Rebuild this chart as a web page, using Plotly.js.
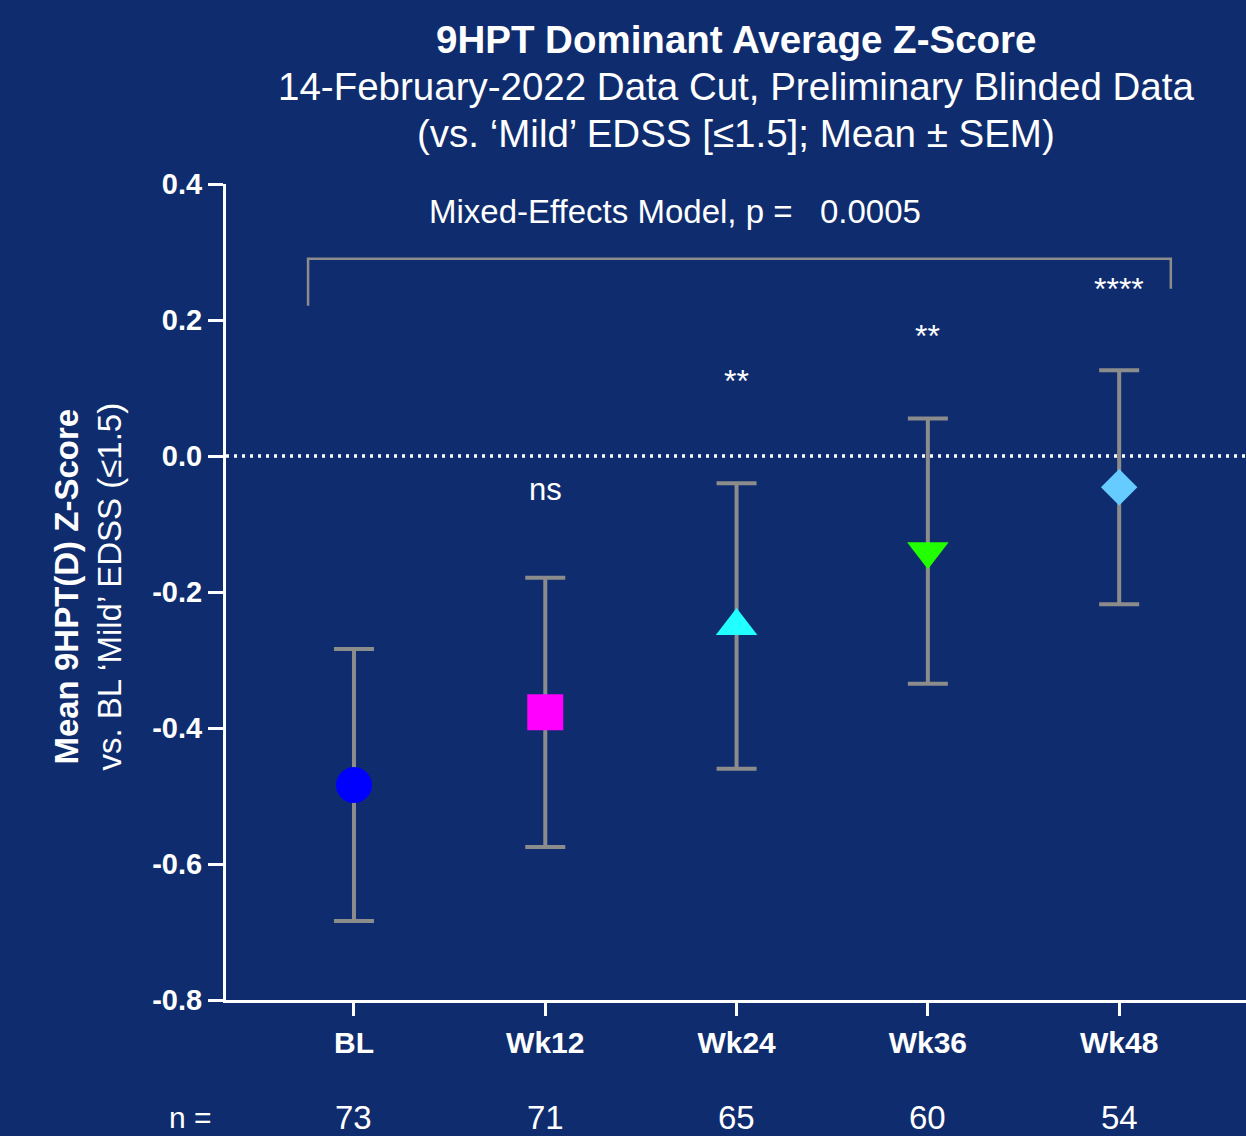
<!DOCTYPE html>
<html>
<head>
<meta charset="utf-8">
<script src="https://cdn.plot.ly/plotly-3.0.1.min.js"></script>
<style>
  html, body { margin: 0; padding: 0; background: #0f2d6e; }
  #chart { width: 1246px; height: 1136px; }
</style>
</head>
<body>
<div id="chart"></div>
<script>
// ---- data ----
const categories = ["BL", "Wk12", "Wk24", "Wk36", "Wk48"];
const meanZ = [-0.484, -0.377, -0.250, -0.140, -0.046];
const semZ = [0.200, 0.198, 0.210, 0.195, 0.172];
const nCounts = [73, 71, 65, 60, 54];
const sigLabels = ["", "ns", "**", "**", "****"];
const yTickVals = [0.4, 0.2, 0.0, -0.2, -0.4, -0.6, -0.8];
const yTickText = ["0.4", "0.2", "0.0", "-0.2", "-0.4", "-0.6", "-0.8"];
const titleLines = [
  "9HPT Dominant Average Z-Score",
  "14-February-2022 Data Cut, Preliminary Blinded Data",
  "(vs. \u2018Mild\u2019 EDSS [\u22641.5]; Mean \u00b1 SEM)"
];
const yTitleLines = ["Mean 9HPT(D) Z-Score", "vs. BL \u2018Mild\u2019 EDSS (\u22641.5)"];
const pValueText = "Mixed-Effects Model, p =   0.0005";

// ---- styles ----
const markerSymbols = ["circle", "square", "triangle-up", "triangle-down", "diamond"];
const markerColors = ["#0000ff", "#ff00ff", "#22ffff", "#22ff00", "#66ccff"];
const markerSizes = [36, 36, 36, 36, 28];
const sigY = [null, -0.049, 0.110, 0.177, 0.246];
const FONT = "Liberation Sans, Arial, sans-serif";
const BG = "#0f2d6e";
const GRAY = "#8c8c8c";

const xIdx = categories.map((c, i) => i);

const trace = {
  type: "scatter",
  mode: "markers",
  x: xIdx,
  y: meanZ,
  error_y: { type: "data", array: semZ, visible: true, color: GRAY, thickness: 4, width: 20 },
  marker: { symbol: markerSymbols, color: markerColors, size: markerSizes, opacity: 1, line: { width: 0 } },
  hoverinfo: "skip",
  showlegend: false,
  cliponaxis: false
};

const annotations = [];
// title lines
const titleY = [1.1765, 1.1189, 1.0625];
titleLines.forEach((t, i) => {
  annotations.push({
    x: 0.5, y: titleY[i], xref: "paper", yref: "paper", showarrow: false,
    text: i === 0 ? "<b>" + t + "</b>" : t, xanchor: "center", yanchor: "middle",
    font: { family: FONT, size: 38.5, color: "#ffffff" }
  });
});
// significance labels
sigLabels.forEach((s, i) => {
  if (!s) return;
  annotations.push({
    x: i, y: sigY[i], xref: "x", yref: "y", text: s, showarrow: false,
    xanchor: "center", yanchor: "middle",
    font: { family: FONT, size: s === "ns" ? 31 : 32, color: "#ffffff" }
  });
});
// n row
annotations.push({
  x: -0.035, y: -0.1446, xref: "paper", yref: "paper", text: "n =", showarrow: false,
  xanchor: "center", yanchor: "middle", font: { family: FONT, size: 30, color: "#ffffff" }
});
nCounts.forEach((n, i) => {
  annotations.push({
    x: i, y: -0.1446, xref: "x", yref: "paper", text: String(n), showarrow: false,
    xanchor: "center", yanchor: "middle", font: { family: FONT, size: 33, color: "#ffffff" }
  });
});
// p-value text
annotations.push({
  x: 1.678, y: 0.36, xref: "x", yref: "y", text: pValueText, showarrow: false,
  xanchor: "center", yanchor: "middle", font: { family: FONT, size: 33, color: "#ffffff" }
});
// y-axis title
annotations.push({
  x: -0.135, y: 0.507, xref: "paper", yref: "paper", textangle: -90,
  text: "<b>" + yTitleLines[0] + "</b><br>" + yTitleLines[1],
  showarrow: false, xanchor: "center", yanchor: "middle",
  font: { family: FONT, size: 33, color: "#ffffff" }
});

const shapes = [
  // dotted reference line at zero
  { type: "line", xref: "paper", yref: "y", x0: 0, x1: 1, y0: 0, y1: 0, layer: "below",
    line: { color: "#ffffff", width: 3.5, dash: "3px,5px" } },
  // bracket
  { type: "path", xref: "x", yref: "y", layer: "below",
    path: "M -0.24,0.221 L -0.24,0.29 L 4.27,0.29 L 4.27,0.246",
    line: { color: GRAY, width: 2.5 } }
];

const layout = {
  width: 1246, height: 1136,
  paper_bgcolor: BG, plot_bgcolor: BG,
  margin: { l: 226, r: 0, t: 184, b: 136, pad: 0 },
  font: { family: FONT, color: "#ffffff" },
  xaxis: {
    range: [-0.669, 4.663],
    tickvals: xIdx, ticktext: categories,
    showgrid: false, zeroline: false,
    showline: true, linecolor: "#ffffff", linewidth: 3,
    ticks: "outside", ticklen: 13, tickwidth: 3, tickcolor: "#ffffff",
    tickfont: { family: FONT, size: 30, weight: "bold", color: "#ffffff" },
    ticklabelstandoff: 1,
    fixedrange: true
  },
  yaxis: {
    range: [-0.8, 0.4],
    tickvals: yTickVals, ticktext: yTickText,
    showgrid: false, zeroline: false,
    showline: true, linecolor: "#ffffff", linewidth: 3,
    ticks: "outside", ticklen: 15, tickwidth: 3, tickcolor: "#ffffff",
    tickfont: { family: FONT, size: 29, weight: "bold", color: "#ffffff" },
    fixedrange: true
  },
  annotations: annotations,
  shapes: shapes,
  showlegend: false
};

Plotly.newPlot("chart", [trace], layout, { displayModeBar: false, staticPlot: true });
</script>
</body>
</html>
